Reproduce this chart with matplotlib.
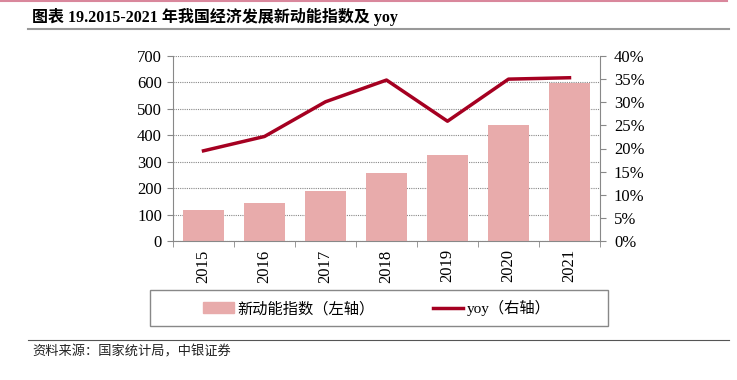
import numpy as np
import matplotlib.pyplot as plt
from matplotlib.lines import Line2D
from matplotlib.patches import Rectangle
from matplotlib.ticker import FuncFormatter, FixedLocator

plt.rcParams['font.family'] = ['Liberation Serif', 'Noto Sans CJK SC']

years = ['2015', '2016', '2017', '2018', '2019', '2020', '2021']
index_vals = [118, 145, 189, 258, 326, 439, 598]
yoy_vals = [19.5, 22.6, 30.1, 34.8, 25.9, 35.0, 35.3]

bar_color = '#E8ABAB'
line_color = '#A50021'

fig = plt.figure(figsize=(7.37, 3.8), dpi=100)
ax = fig.add_axes([173/737, 1-241/380, 427/737, 185/380])
x = np.arange(len(years))
ax.bar(x, index_vals, width=0.66, color=bar_color, zorder=2)
ax.set_xlim(-0.5, len(years)-0.5)
ax.set_ylim(0, 700)
ax.set_yticks(range(0, 701, 100))
ax.grid(axis='y', color='#888888', linestyle=(0, (1, 1)), linewidth=0.8, zorder=0)
ax.set_xticks(x)
ax.set_xticklabels(years, rotation=90)
ax.xaxis.set_minor_locator(FixedLocator(np.arange(-0.5, len(years), 1)))
ax.tick_params(axis='x', which='major', length=0, pad=6, labelsize=12)
ax.tick_params(axis='x', which='minor', length=4, color='#888888', direction='out')
ax.tick_params(axis='y', length=4, color='#888888', labelsize=12, pad=4)
for s in ['top', 'right']:
    ax.spines[s].set_visible(False)
for s in ['left', 'bottom']:
    ax.spines[s].set_color('#888888')

ax2 = ax.twinx()
ax2.plot(x, yoy_vals, color=line_color, linewidth=2.5, zorder=3)
ax2.set_ylim(0, 40)
ax2.set_yticks(range(0, 41, 5))
ax2.yaxis.set_major_formatter(FuncFormatter(lambda v, p: f'{int(v)}%'))
ax2.tick_params(axis='y', length=4, color='#888888', labelsize=12, pad=6)
for s in ['top', 'left', 'bottom']:
    ax2.spines[s].set_visible(False)
ax2.spines['right'].set_color('#888888')

# legend box
fig.add_artist(Rectangle((150/737, 1-326/380), 458/737, 36/380, transform=fig.transFigure,
                         fill=False, edgecolor='#888888', linewidth=1.0))
handles = [plt.Rectangle((0, 0), 1, 1, color=bar_color),
           Line2D([0], [0], color=line_color, linewidth=2.5)]
leg = fig.legend(handles, ['新动能指数（左轴）', 'yoy（右轴）'], ncol=2,
                 loc='center', bbox_to_anchor=(377/737, 1-308/380),
                 borderaxespad=0, fontsize=11, frameon=False,
                 handlelength=2.0, handletextpad=0.25, columnspacing=3.8)

# title and decorations
fig.add_artist(Line2D([0, 727/737], [1-1/380, 1-1/380], color='#D9879C', linewidth=1.5))
fig.text(32/737, 1-17/380, '图表 19.2015-2021 年我国经济发展新动能指数及 yoy',
         fontsize=11.5, fontweight='bold', va='center', ha='left')
fig.add_artist(Line2D([28/737, 729/737], [1-29/380, 1-29/380], color='#999999', linewidth=1.5))
fig.add_artist(Line2D([28/737, 729/737], [1-340/380, 1-340/380], color='#555555', linewidth=0.8))
fig.text(32/737, 1-352/380, '资料来源：国家统计局，中银证券', fontsize=9.5,
         style='italic', va='center', ha='left', color='#222222')

fig.savefig('out.png', dpi=100)
